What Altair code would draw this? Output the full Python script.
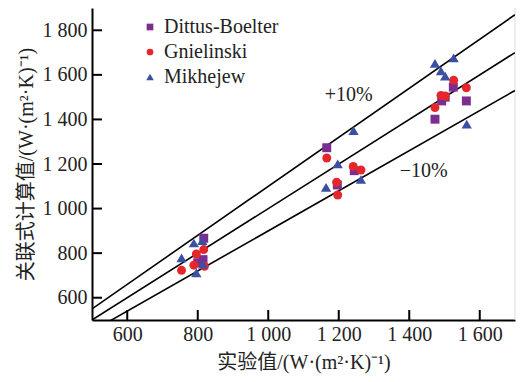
import altair as alt
import pandas as pd

# ---------------- data ----------------
series_names = ["Dittus-Boelter", "Gnielinski", "Mikhejew"]
series_colors = ["#7b2e8f", "#e5262b", "#3b4fa3"]
series_shapes = ["square", "circle", "M0,-1L1.15,0.95L-1.15,0.95Z"]

db_x = [817, 815, 800, 1166, 1244, 1196, 1525, 1492, 1473, 1562, 1502]
db_y = [867, 771, 757, 1273, 1170, 1106, 1545, 1483, 1401, 1483, 1500]

gn_x = [754, 796, 817, 789, 819, 1166, 1241, 1263, 1194, 1197, 1526, 1562, 1490, 1502, 1473]
gn_y = [723, 796, 816, 746, 741, 1227, 1189, 1173, 1118, 1061, 1576, 1542, 1508, 1505, 1453]

mk_x = [754, 789, 813, 796, 815, 1242, 1197, 1263, 1164, 1473, 1526, 1490, 1502, 1563]
mk_y = [778, 845, 856, 711, 750, 1349, 1200, 1130, 1095, 1651, 1676, 1617, 1594, 1378]

ratios = [0.9, 1.0, 1.1]
line_x = [500, 1700]

note_text = ["+10%", "\u221210%"]
note_x = [1228, 1441]
note_y = [1509, 1170]

x_ticks = [600, 800, 1000, 1200, 1400, 1600]
y_ticks = [600, 800, 1000, 1200, 1400, 1600, 1800]
x_domain = [500, 1700]
y_domain = [500, 1900]

x_title = "实验值/(W·(m²·K)⁻¹)"
y_title = "关联式计算值/(W·(m²·K)⁻¹)"

# ---------------- tables ----------------
rows = []
for name, xs_, ys_ in zip(series_names, [db_x, gn_x, mk_x], [db_y, gn_y, mk_y]):
    for a, b in zip(xs_, ys_):
        rows.append({"series": name, "x": a, "y": b})
pts = pd.DataFrame(rows)

lines = pd.DataFrame([{"ratio": r, "x": v} for r in ratios for v in line_x])
notes = pd.DataFrame({"t": note_text, "x": note_x, "y": note_y})
xt = pd.DataFrame({"x": x_ticks})
yt = pd.DataFrame({"y": y_ticks})
edge = pd.DataFrame({"x": [x_domain[1]]})

W, H = 423, 312
SERIF = "Liberation Serif"
MIXED = "Liberation Serif, Noto Sans CJK SC"
label_expr = "replace(format(datum.value, ','), ',', ' ')"

xs = alt.Scale(domain=x_domain, nice=False, zero=False)
ys = alt.Scale(domain=y_domain, nice=False, zero=False)

x_axis = alt.Axis(title=x_title, values=x_ticks, labelExpr=label_expr,
                  titlePadding=8, labelPadding=4)
y_axis = alt.Axis(title=y_title, values=y_ticks, labelExpr=label_expr,
                  titlePadding=6, labelPadding=5)

X = alt.X("x:Q", scale=xs, axis=x_axis)
Y = alt.Y("y:Q", scale=ys, axis=y_axis)

ref_lines = alt.Chart(lines).transform_calculate(
    y="datum.ratio * datum.x"
).mark_line(color="black", strokeWidth=1.6, clip=True).encode(
    x=X, y=Y, detail="ratio:N",
)

points = alt.Chart(pts).mark_point(filled=True, opacity=1, size=80).encode(
    x=X, y=Y,
    color=alt.Color("series:N", scale=alt.Scale(domain=series_names, range=series_colors),
                    legend=alt.Legend(title=None, orient="none", legendX=48, legendY=9,
                                      labelFont=SERIF, labelFontSize=20, labelColor="#222",
                                      symbolSize=45, rowPadding=5, labelOffset=4,
                                      padding=0, symbolStrokeWidth=0)),
    shape=alt.Shape("series:N", scale=alt.Scale(domain=series_names, range=series_shapes)),
)

texts = alt.Chart(notes).mark_text(font=SERIF, fontSize=20, color="#222").encode(
    x=X, y=Y, text="t:N",
)

xticks = alt.Chart(xt).mark_rule(color="black", strokeWidth=2).encode(
    x=X, y=alt.value(H), y2=alt.value(H - 10),
)
yticks = alt.Chart(yt).mark_rule(color="black", strokeWidth=2).encode(
    y=Y, x=alt.value(0), x2=alt.value(10),
)
right_edge = alt.Chart(edge).mark_rule(color="#dddddd", strokeWidth=1).encode(
    x=X, y=alt.value(0), y2=alt.value(H),
)

chart = alt.layer(right_edge, ref_lines, points, texts, xticks, yticks).properties(
    width=W, height=H,
    autosize=alt.AutoSizeParams(type="none"),
    padding={"left": 84, "top": 0, "right": 3, "bottom": 54},
).configure_view(stroke=None).configure_axis(
    grid=False, ticks=False, domainColor="black", domainWidth=2,
    labelFont=SERIF, labelFontSize=20, labelColor="#222",
    titleFont=MIXED, titleFontSize=20, titleFontWeight="normal", titleColor="#222",
)

chart.save("out.html", embed_options={"renderer": "svg", "actions": False})
